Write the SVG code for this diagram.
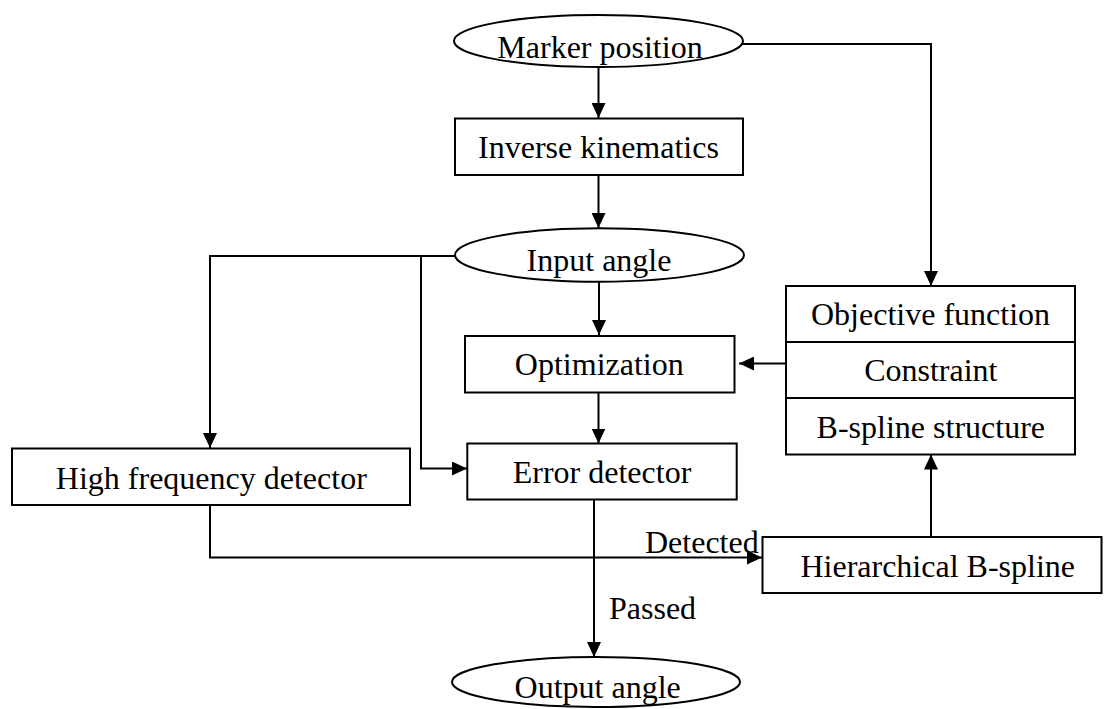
<svg xmlns="http://www.w3.org/2000/svg" width="1104" height="709" viewBox="0 0 1104 709">
<style>
.n{fill:#fff;stroke:#000;stroke-width:2}
.t{font-family:"Liberation Serif","Times New Roman",serif;font-size:32px;fill:#000;text-anchor:middle}
.s{text-anchor:start}
.c{fill:none;stroke:#000;stroke-width:2}
</style>
<defs>
<marker id="ah" markerUnits="userSpaceOnUse" markerWidth="16" markerHeight="14" refX="15" refY="7" orient="auto">
<path d="M0,0 L15,7 L0,14 z" fill="#000"/>
</marker>
</defs>
<rect width="1104" height="709" fill="#fff"/>
<g id="connectors">
<line class="c" x1="598.5" y1="67" x2="598.5" y2="118" marker-end="url(#ah)"/>
<line class="c" x1="598.5" y1="175" x2="598.5" y2="228" marker-end="url(#ah)"/>
<polyline class="c" points="742,44 931,44 931,286" marker-end="url(#ah)"/>
<line class="c" x1="599" y1="282" x2="599" y2="335" marker-end="url(#ah)"/>
<line class="c" x1="786" y1="363.5" x2="739" y2="363.5" marker-end="url(#ah)"/>
<line class="c" x1="598.5" y1="392" x2="598.5" y2="443.5" marker-end="url(#ah)"/>
<polyline class="c" points="455,256 210,256 210,448" marker-end="url(#ah)"/>
<polyline class="c" points="421,256 421,468.5 467,468.5" marker-end="url(#ah)"/>
<polyline class="c" points="210,505 210,557.5 762,557.5" marker-end="url(#ah)"/>
<line class="c" x1="931" y1="537" x2="931" y2="454.5" marker-end="url(#ah)"/>
<line class="c" x1="594" y1="499.5" x2="594" y2="657" marker-end="url(#ah)"/>
<text class="t s" x="645" y="552.5">Detected</text>
<text class="t s" x="609" y="619">Passed</text>
</g>
<g id="marker-position">
<ellipse class="n" cx="598.5" cy="41" rx="144.5" ry="26"/>
<text class="t" x="600" y="58">Marker position</text>
</g>
<g id="inverse-kinematics">
<rect class="n" x="455" y="118.5" width="288" height="56.5"/>
<text class="t" x="598.5" y="158">Inverse kinematics</text>
</g>
<g id="input-angle">
<ellipse class="n" cx="599.5" cy="255" rx="144.5" ry="26.7"/>
<text class="t" x="599" y="270.5">Input angle</text>
</g>
<g id="optimization">
<rect class="n" x="465" y="336" width="269.5" height="56.5"/>
<text class="t" x="599.3" y="375">Optimization</text>
</g>
<g id="objective-function">
<rect class="n" x="786" y="286" width="289" height="56"/>
<text class="t" x="930.5" y="325">Objective function</text>
</g>
<g id="constraint">
<rect class="n" x="786" y="342" width="289" height="56"/>
<text class="t" x="930.8" y="381">Constraint</text>
</g>
<g id="b-spline-structure">
<rect class="n" x="786" y="398" width="289" height="56.5"/>
<text class="t" x="930.8" y="437.5">B-spline structure</text>
</g>
<g id="high-frequency-detector">
<rect class="n" x="12" y="448.5" width="398" height="56.5"/>
<text class="t" x="211.3" y="489.3">High frequency detector</text>
</g>
<g id="error-detector">
<rect class="n" x="467.3" y="443.5" width="269.4" height="56"/>
<text class="t" x="602" y="483.3">Error detector</text>
</g>
<g id="hierarchical-b-spline">
<rect class="n" x="762.5" y="537" width="339" height="56"/>
<text class="t" x="937.7" y="576.7">Hierarchical B-spline</text>
</g>
<g id="output-angle">
<ellipse class="n" cx="596" cy="682" rx="144" ry="25"/>
<text class="t" x="597.7" y="698.3">Output angle</text>
</g>
</svg>
